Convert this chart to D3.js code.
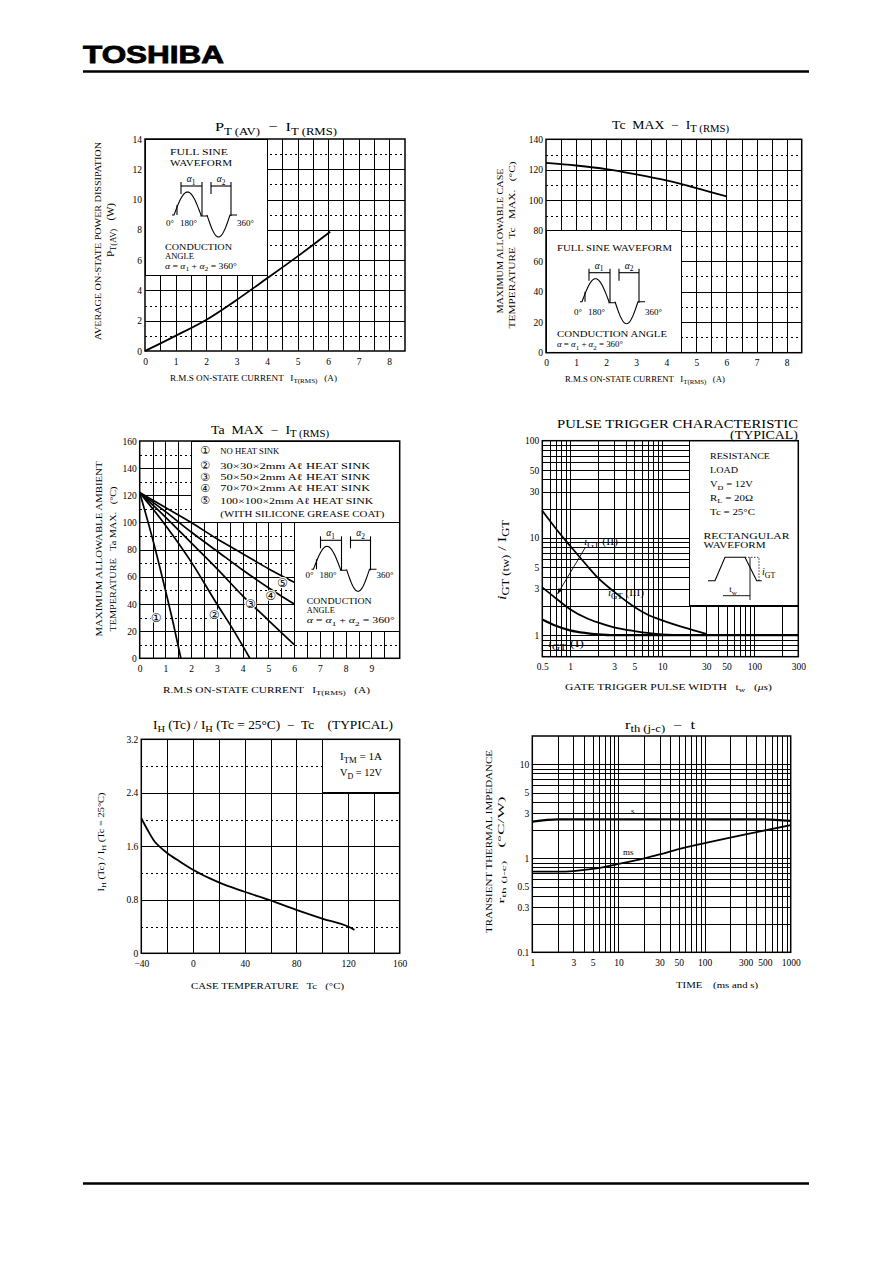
<!DOCTYPE html>
<html><head><meta charset="utf-8">
<script src="https://cdn.jsdelivr.net/npm/d3@7"></script>
<style>
html,body{margin:0;padding:0;background:#fff}
svg{display:block}
</style></head><body>
<svg id="c" width="892" height="1263"></svg>
<script>
// ---------------- DATA ----------------
// Chart 1: PT(AV) - IT(RMS)
const c1_current = [0, 1, 2, 3, 4, 5, 5.5, 6.07];
const c1_power   = [0, 1.0, 2.05, 3.37, 4.8, 6.25, 7.0, 7.88];
const c1_xTicks = [0,1,2,3,4,5,6,7,8];
const c1_yTicks = [0,2,4,6,8,10,12,14];
const c1_xGrid = [0.5,1,1.5,2,2.5,3,3.5,4,4.5,5,5.5,6,6.5,7,7.5,8];
const c1_yGrid = [2,4,6,8,10,12];
const c1_yGridDash = [1,3,5,7,9,11,13];

// Chart 2: Tc MAX - IT(RMS)
const c2_current = [0, 1, 2, 3, 4, 5, 6];
const c2_tcmax   = [124.5, 122.8, 120.5, 117, 113, 108, 102.5];
const c2_xTicks = [0,1,2,3,4,5,6,7,8];
const c2_yTicks = [0,20,40,60,80,100,120,140];
const c2_xGrid = [0.5,1,1.5,2,2.5,3,3.5,4,4.5,5,5.5,6,6.5,7,7.5,8];
const c2_yGrid = [20,40,60,80,100,120];
const c2_yGridDash = [10,30,50,70,90,110,130];

// Chart 3: Ta MAX - IT(RMS)
const c3_current_1 = [0, 0.5, 1, 1.3, 1.6];
const c3_ta_1      = [122, 88, 50, 26, 0];
const c3_current_2 = [0, 1, 2, 3, 3.6, 4.28];
const c3_ta_2      = [122, 98, 71, 40, 22, 0];
const c3_current_3 = [0, 1, 2, 3, 4, 5, 6];
const c3_ta_3      = [122, 104, 85, 66, 46, 28, 10];
const c3_current_4 = [0, 1, 2, 3, 4, 5, 6];
const c3_ta_4      = [122, 108, 93, 79, 65, 52, 40];
const c3_current_5 = [0, 1, 2, 3, 4, 5, 6];
const c3_ta_5      = [122, 111, 100, 88, 77, 66, 56];
const c3_curveNames = ["①","②","③","④","⑤"];
const c3_legend = ["NO HEAT SINK","30×30×2mm Aℓ HEAT SINK","50×50×2mm Aℓ HEAT SINK","70×70×2mm Aℓ HEAT SINK","100×100×2mm Aℓ HEAT SINK"];
const c3_xTicks = [0,1,2,3,4,5,6,7,8,9];
const c3_yTicks = [0,20,40,60,80,100,120,140,160];
const c3_xGrid = [0.5,1,1.5,2,2.5,3,3.5,4,4.5,5,5.5,6,6.5,7,7.5,8,8.5,9,9.5];
const c3_yGrid = [20,40,60,80,100,120,140];
const c3_yGridDash = [10,30,50,70,90,110,130,150];

// Chart 4: Pulse trigger characteristic
const c4_width_III = [0.5, 0.7, 1, 1.5, 2, 3, 5, 7, 10, 20, 30];
const c4_ratio_III = [19, 12.5, 8.3, 5.3, 3.9, 2.8, 1.95, 1.62, 1.42, 1.15, 1.03];
const c4_width_II  = [0.5, 0.7, 1, 1.5, 2, 3, 5, 10, 20];
const c4_ratio_II  = [3.1, 2.4, 1.85, 1.5, 1.35, 1.2, 1.1, 1.02, 1.0];
const c4_width_I   = [0.5, 0.7, 1, 1.5, 2, 3, 300];
const c4_ratio_I   = [1.45, 1.25, 1.12, 1.05, 1.02, 1.0, 1.0];
const c4_xTicks = [0.5,1,3,5,10,30,50,100,300];
const c4_yTicks = [1,3,5,10,30,50,100];
const c4_xGrid = [0.6,0.7,0.8,0.9,1,2,3,4,5,6,7,8,9,10,20,30,40,50,60,70,80,90,100,200];
const c4_yGrid = [0.7,0.8,0.9,1,2,3,4,5,6,7,8,9,10,20,30,40,50,60,70,80,90];

// Chart 5: IH(Tc)/IH(25) - Tc
const c5_temp  = [-40, -35, -30, -25, -20, -10, 0, 20, 40, 60, 80, 100, 120, 125];
const c5_ratio = [2.02, 1.84, 1.68, 1.58, 1.50, 1.37, 1.25, 1.06, 0.92, 0.79, 0.65, 0.52, 0.40, 0.35];
const c5_xTicks = [-40,0,40,80,120,160];
const c5_yTicks = [0,0.8,1.6,2.4,3.2];
const c5_xGrid = [-20,0,20,40,60,80,100,120,140];
const c5_yGrid = [0.8,1.6,2.4];
const c5_yGridDash = [0.4,1.2,2.0,2.8];

// Chart 6: rth(j-c) - t
const c6_time_ms = [1, 2, 3, 5, 10, 20, 30, 50, 100, 300, 1000];
const c6_rth_ms  = [0.72, 0.72, 0.73, 0.77, 0.87, 1.0, 1.1, 1.25, 1.45, 1.8, 2.25];
const c6_time_s  = [1, 2, 10, 100, 500, 1000];
const c6_rth_s   = [2.45, 2.6, 2.6, 2.6, 2.6, 2.5];
const c6_xTicks = [1,3,5,10,30,50,100,300,500,1000];
const c6_yTicks = [0.1,0.3,0.5,1,3,5,10];
const c6_xGrid = [2,3,4,5,6,7,8,9,10,20,30,40,50,60,70,80,90,100,200,300,400,500,600,700,800,900];
const c6_yGrid = [0.2,0.3,0.4,0.5,0.6,0.7,0.8,0.9,1,2,3,4,5,6,7,8,9,10];

// ---------------- DRAWING ----------------
const FONT = '"Liberation Serif","DejaVu Serif",serif';
const SANS = '"Liberation Sans","DejaVu Sans",sans-serif';
const svg = d3.select('#c');

function rich(parent, x, y, parts, o = {}) {
  const size = o.size || 9;
  const t = parent.append('text')
    .attr('x', x).attr('y', y)
    .attr('font-family', o.family || FONT)
    .attr('font-size', size)
    .attr('text-anchor', o.anchor || 'start')
    .attr('fill', '#000')
    .style('white-space', 'pre');
  if (o.weight) t.attr('font-weight', o.weight);
  if (o.rotate) t.attr('transform', `rotate(-90,${x},${y})`);
  if (o.len) t.attr('textLength', o.len).attr('lengthAdjust', 'spacingAndGlyphs');
  let cur = 0;
  parts.forEach(p => {
    if (typeof p === 'string') p = { t: p };
    const s = t.append('tspan').text(p.t);
    const target = p.sub ? size * 0.28 : 0;
    if (target !== cur) { s.attr('dy', target - cur); cur = target; }
    if (p.sub) s.attr('font-size', size * 0.78);
    if (p.it) s.attr('font-style', 'italic');
  });
  return t;
}

function panel(cfg) {
  const g = svg.append('g');
  const x = cfg.x, y = cfg.y;
  const [x0, x1] = x.range();
  const [yb, yt] = y.range();
  const W = x1 - x0, H = yb - yt;
  const grid = (scale, vals, vertical, dashed) => {
    if (!vals || !vals.length) return;
    const ax = (vertical ? d3.axisBottom(scale).tickSize(-H) : d3.axisLeft(scale).tickSize(-W))
      .tickValues(vals).tickFormat('');
    const gg = g.append('g')
      .attr('transform', vertical ? `translate(0,${yb})` : `translate(${x0},0)`)
      .call(ax);
    gg.select('.domain').remove();
    gg.selectAll('.tick line').attr('stroke', '#000')
      .attr('stroke-width', 1)
      .attr('shape-rendering', 'crispEdges')
      .attr('stroke-dasharray', dashed ? '2,3' : null);
  };
  grid(x, cfg.xGrid, true, false);
  grid(x, cfg.xGridDash, true, true);
  grid(y, cfg.yGrid, false, false);
  grid(y, cfg.yGridDash, false, true);
  (cfg.insets || []).forEach(b => {
    g.append('rect')
      .attr('x', x(b[0])).attr('y', y(b[3]))
      .attr('width', x(b[1]) - x(b[0])).attr('height', y(b[2]) - y(b[3]))
      .attr('fill', '#fff').attr('stroke', '#000').attr('stroke-width', 1)
      .attr('shape-rendering', 'crispEdges');
  });
  g.append('rect').attr('x', x0).attr('y', yt).attr('width', W).attr('height', H)
    .attr('fill', 'none').attr('stroke', '#000').attr('stroke-width', 1.5);
  const xa = d3.axisBottom(x).tickValues(cfg.xTicks).tickSize(0).tickPadding(7)
    .tickFormat(cfg.xFmt || (d => String(d)));
  const gx = g.append('g').attr('transform', `translate(0,${yb})`).call(xa);
  gx.select('.domain').remove();
  gx.attr('font-family', FONT).attr('font-size', 9.5);
  const ya = d3.axisLeft(y).tickValues(cfg.yTicks).tickSize(0).tickPadding(3)
    .tickFormat(cfg.yFmt || (d => String(d)));
  const gy = g.append('g').attr('transform', `translate(${x0},0)`).call(ya);
  gy.select('.domain').remove();
  gy.attr('font-family', FONT).attr('font-size', 9.5);
  return g;
}

function curve(g, x, y, xs, ys, w, kind) {
  const line = d3.line().x(d => x(d[0])).y(d => y(d[1]))
    .curve(kind === 'lin' ? d3.curveLinear : d3.curveMonotoneX);
  g.append('path').attr('d', line(d3.zip(xs, ys)))
    .attr('fill', 'none').attr('stroke', '#000').attr('stroke-width', w || 1.8)
    .attr('stroke-linejoin', 'round');
}

// sine waveform sketch used in the insets (an illustration, not data)
function wave(g, x0, base, labDy) {
  const n = 30, pos = [], neg = [];
  for (let i = 0; i <= n; i++) pos.push([x0 + 27 * i / n, base - 23 * Math.sin(Math.PI * i / n)]);
  for (let i = 0; i <= n; i++) neg.push([x0 + 33 + 23 * i / n, base + 22 * Math.sin(Math.PI * i / n)]);
  const L = d3.line();
  const st = s => s.attr('fill', 'none').attr('stroke', '#000').attr('stroke-width', 1.1);
  st(g.append('path').attr('d', L([[x0 - 2, base], ...pos, [x0 + 27, base + 1], [x0 + 33, base + 1]])));
  st(g.append('path').attr('d', L([...neg, [x0 + 63, base]])));
  st(g.append('path').attr('d', L([[x0 + 3, base], [x0 + 3, base - 10]])));
  const by = base - 29;
  const br = (a, b) => {
    st(g.append('path').attr('d', L([[a, by - 4], [a, by + 8]])));
    st(g.append('path').attr('d', L([[b, by - 4], [b, base + 1]])));
    st(g.append('path').attr('d', L([[a, by], [b, by]])).attr('stroke-width', 0.8));
  };
  br(x0 + 7, x0 + 28);
  br(x0 + 37, x0 + 57);
  rich(g, x0 + 17, by - 4, [{ t: 'α', it: true }, { t: '1', sub: true }], { size: 9.5, anchor: 'middle' });
  rich(g, x0 + 47, by - 4, [{ t: 'α', it: true }, { t: '2', sub: true }], { size: 9.5, anchor: 'middle' });
  rich(g, x0 - 8, base + labDy, ['0°'], { size: 9 });
  rich(g, x0 + 6, base + labDy, ['180°'], { size: 9 });
  rich(g, x0 + 63, base + labDy, ['360°'], { size: 9 });
}

// ---------- Header / footer ----------
svg.append('text').attr('x', 83).attr('y', 63).text('TOSHIBA')
  .attr('font-family', SANS).attr('font-weight', 'bold').attr('font-size', 23.5)
  .attr('textLength', 141).attr('lengthAdjust', 'spacingAndGlyphs')
  .attr('stroke', '#000').attr('stroke-width', 0.8);
svg.append('line').attr('x1', 83).attr('x2', 809).attr('y1', 71.5).attr('y2', 71.5)
  .attr('stroke', '#000').attr('stroke-width', 2.5);
svg.append('line').attr('x1', 83).attr('x2', 809).attr('y1', 1183.5).attr('y2', 1183.5)
  .attr('stroke', '#000').attr('stroke-width', 2.5);

// ---------- Chart 1 ----------
{
  const x = d3.scaleLinear().domain([0, 8.52]).range([145, 405]);
  const y = d3.scaleLinear().domain([0, 14]).range([351, 139]);
  const g = panel({ x, y, xTicks: c1_xTicks, yTicks: c1_yTicks, xGrid: c1_xGrid,
    yGrid: c1_yGrid, yGridDash: c1_yGridDash, insets: [[0, 4, 5, 14]] });
  curve(g, x, y, c1_current, c1_power, 1.8);
  rich(g, 215, 131, ['P', { t: 'T (AV)', sub: true }, '  −  I', { t: 'T (RMS)', sub: true }], { size: 12.5, len: 122 });
  rich(g, 100.5, 241, ['AVERAGE ON-STATE POWER DISSIPATION'], { size: 8.5, len: 198, rotate: true, anchor: 'middle' });
  rich(g, 113.5, 230, ['P', { t: 'T(AV)', sub: true }, '   (W)'], { size: 9.5, len: 54, rotate: true, anchor: 'middle' });
  rich(g, 170, 381, ['R.M.S ON-STATE CURRENT   I', { t: 'T(RMS)', sub: true }, '   (A)'], { size: 8.5, len: 167 });
  rich(g, 170, 155, ['FULL SINE'], { size: 9, len: 58 });
  rich(g, 170, 166, ['WAVEFORM'], { size: 9, len: 62 });
  wave(g, 174, 215, 11);
  rich(g, 165, 250, ['CONDUCTION'], { size: 9, len: 67 });
  rich(g, 165, 259, ['ANGLE'], { size: 9, len: 29 });
  rich(g, 165, 268.5, [{ t: 'α', it: true }, ' = ', { t: 'α', it: true }, { t: '1', sub: true }, ' + ', { t: 'α', it: true }, { t: '2', sub: true }, ' = 360°'], { size: 9, len: 72 });
}

// ---------- Chart 2 ----------
{
  const x = d3.scaleLinear().domain([0, 8.5]).range([546, 801.7]);
  const y = d3.scaleLinear().domain([0, 140]).range([352.7, 139.3]);
  const g = panel({ x, y, xTicks: c2_xTicks, yTicks: c2_yTicks, xGrid: c2_xGrid,
    yGrid: c2_yGrid, yGridDash: c2_yGridDash, insets: [[0, 4.5, 0, 80]] });
  curve(g, x, y, c2_current, c2_tcmax, 1.8);
  rich(g, 612, 129, ['Tc  MAX  −  I', { t: 'T (RMS)', sub: true }], { size: 12, len: 117 });
  rich(g, 503, 241, ['MAXIMUM ALLOWABLE CASE'], { size: 8.5, len: 145, rotate: true, anchor: 'middle' });
  rich(g, 515, 245, ['TEMPERATURE   Tc   MAX.   (°C)'], { size: 8.5, len: 167, rotate: true, anchor: 'middle' });
  rich(g, 565, 382, ['R.M.S ON-STATE CURRENT   I', { t: 'T(RMS)', sub: true }, '   (A)'], { size: 8.5, len: 160 });
  rich(g, 557, 251, ['FULL SINE WAVEFORM'], { size: 9, len: 115 });
  wave(g, 582, 301.7, 13);
  rich(g, 557, 336.5, ['CONDUCTION ANGLE'], { size: 9, len: 110 });
  rich(g, 557, 347, [{ t: 'α', it: true }, ' = ', { t: 'α', it: true }, { t: '1', sub: true }, ' + ', { t: 'α', it: true }, { t: '2', sub: true }, ' = 360°'], { size: 9, len: 66 });
}

// ---------- Chart 3 ----------
{
  const x = d3.scaleLinear().domain([0, 10.1]).range([139.7, 399.7]);
  const y = d3.scaleLinear().domain([0, 160]).range([658.3, 441]);
  const g = panel({ x, y, xTicks: c3_xTicks, yTicks: c3_yTicks, xGrid: c3_xGrid,
    yGrid: c3_yGrid, yGridDash: c3_yGridDash, insets: [[2, 10.1, 100, 160], [6, 10.1, 20, 100]] });
  const sets = [[c3_current_1, c3_ta_1], [c3_current_2, c3_ta_2], [c3_current_3, c3_ta_3],
                [c3_current_4, c3_ta_4], [c3_current_5, c3_ta_5]];
  sets.forEach(s => curve(g, x, y, s[0], s[1], 1.7));
  // curve tags (positions in data units)
  const tagPos = [[0.64, 30], [2.89, 32], [4.3, 40], [5.09, 46], [5.54, 56]];
  tagPos.forEach((p, i) => {
    g.append('text').attr('x', x(p[0])).attr('y', y(p[1]) + 4.5).attr('text-anchor', 'middle')
      .attr('font-size', 12).attr('font-family', '"DejaVu Sans","Noto Sans CJK JP",sans-serif')
      .style('paint-order', 'stroke')
      .attr('stroke', '#fff').attr('stroke-width', 2.5).attr('fill', '#000').text(c3_curveNames[i]);
  });
  const rows = [453.5, 468.5, 480, 491, 503.5];
  const lens = [59, 150, 150, 150, 153];
  c3_legend.forEach((t, i) => {
    g.append('text').attr('x', 205).attr('y', rows[i] + 0.5).attr('text-anchor', 'middle')
      .attr('font-size', 11).attr('font-family', '"DejaVu Sans","Noto Sans CJK JP",sans-serif')
      .text(c3_curveNames[i]);
    rich(g, 220.3, rows[i], [t], { size: 9, len: lens[i] });
  });
  rich(g, 220.3, 517, ['(WITH SILICONE GREASE COAT)'], { size: 9, len: 164 });
  rich(g, 211, 434, ['Ta  MAX  −  I', { t: 'T (RMS)', sub: true }], { size: 12, len: 118 });
  rich(g, 102, 549, ['MAXIMUM ALLOWABLE AMBIENT'], { size: 8.5, len: 175, rotate: true, anchor: 'middle' });
  rich(g, 116, 559, ['TEMPERATURE   Ta MAX.   (°C)'], { size: 8.5, len: 145, rotate: true, anchor: 'middle' });
  rich(g, 163, 693, ['R.M.S ON-STATE CURRENT   I', { t: 'T(RMS)', sub: true }, '   (A)'], { size: 8.5, len: 207 });
  wave(g, 313.5, 569.3, 9);
  rich(g, 306.7, 604, ['CONDUCTION'], { size: 9, len: 65 });
  rich(g, 306.7, 613, ['ANGLE'], { size: 9, len: 28 });
  rich(g, 306.7, 623, [{ t: 'α', it: true }, ' = ', { t: 'α', it: true }, { t: '1', sub: true }, ' + ', { t: 'α', it: true }, { t: '2', sub: true }, ' = 360°'], { size: 9, len: 88 });
}

// ---------- Chart 4 ----------
{
  const x = d3.scaleLog().domain([0.5, 300]).range([542.3, 798.3]);
  const y = d3.scaleLog().domain([0.6, 100]).range([656.7, 440.7]);
  const g = panel({ x, y, xTicks: c4_xTicks, yTicks: c4_yTicks, xGrid: c4_xGrid,
    yGrid: c4_yGrid, insets: [[20, 300, 2, 100]] });
  curve(g, x, y, c4_width_III, c4_ratio_III, 1.8);
  curve(g, x, y, c4_width_II, c4_ratio_II, 1.8);
  curve(g, x, y, c4_width_I, c4_ratio_I, 2.2);
  rich(g, 557, 428, ['PULSE TRIGGER CHARACTERISTIC'], { size: 11.5, len: 241 });
  rich(g, 730, 438.5, ['(TYPICAL)'], { size: 11.5, len: 68 });
  rich(g, 506, 560, [{ t: 'i', it: true }, { t: 'GT', sub: true }, { t: ' (tw)', sub: true }, ' / I', { t: 'GT', sub: true }], { size: 12, len: 80, rotate: true, anchor: 'middle' });
  rich(g, 565, 690, ['GATE TRIGGER PULSE WIDTH   t', { t: 'w', sub: true }, '   (', { t: 'μs', it: true }, ')'], { size: 8.5, len: 207 });
  rich(g, 584, 545, [{ t: 'i', it: true }, { t: 'GT', sub: true }, ' (II)'], { size: 10, len: 34 });
  rich(g, 608, 596, [{ t: 'i', it: true }, { t: 'GT', sub: true }, ' (III)'], { size: 10, len: 36 });
  rich(g, 548, 647, [{ t: 'i', it: true }, { t: 'GT', sub: true }, ' (I)'], { size: 10, len: 36 });
  // arrow from iGT(II) tag to its curve
  const ax0 = 585, ay0 = 548, ax1 = 557.5, ay1 = 594;
  g.append('line').attr('x1', ax0).attr('y1', ay0).attr('x2', ax1).attr('y2', ay1)
    .attr('stroke', '#000').attr('stroke-width', 0.9);
  const ang = Math.atan2(ay1 - ay0, ax1 - ax0);
  const hp = [[ax1, ay1], [ax1 - 6 * Math.cos(ang - 0.35), ay1 - 6 * Math.sin(ang - 0.35)],
              [ax1 - 6 * Math.cos(ang + 0.35), ay1 - 6 * Math.sin(ang + 0.35)]];
  g.append('path').attr('d', d3.line()(hp) + 'Z').attr('fill', '#000');
  // legend
  const lx = 710;
  rich(g, lx, 458.5, ['RESISTANCE'], { size: 9, len: 60 });
  rich(g, lx, 473, ['LOAD'], { size: 9, len: 28 });
  rich(g, lx, 487, ['V', { t: 'D', sub: true }, ' = 12V'], { size: 9, len: 43 });
  rich(g, lx, 500.5, ['R', { t: 'L', sub: true }, ' = 20Ω'], { size: 9, len: 43 });
  rich(g, lx, 514.5, ['Tc = 25°C'], { size: 9, len: 45 });
  rich(g, 703.5, 539, ['RECTANGULAR'], { size: 9, len: 86 });
  rich(g, 703.5, 548, ['WAVEFORM'], { size: 9, len: 62 });
  const L = d3.line();
  g.append('path').attr('d', L([[708, 580.7], [715, 580.7], [725, 557.3], [745, 557.3], [756.7, 580.7], [761.7, 580.7]]))
    .attr('fill', 'none').attr('stroke', '#000').attr('stroke-width', 1.1);
  g.append('path').attr('d', L([[745, 557.3], [759, 557.3], [759, 581]]))
    .attr('fill', 'none').attr('stroke', '#000').attr('stroke-width', 0.8).attr('stroke-dasharray', '1.5,1.5');
  g.append('path').attr('d', L([[750, 557.3], [750, 600]]))
    .attr('fill', 'none').attr('stroke', '#000').attr('stroke-width', 0.9);
  g.append('path').attr('d', L([[723, 595.7], [750, 595.7]]))
    .attr('fill', 'none').attr('stroke', '#000').attr('stroke-width', 0.9);
  rich(g, 733, 592, ['t', { t: 'w', sub: true }], { size: 9, anchor: 'middle' });
  rich(g, 762, 575, [{ t: 'i', it: true }, { t: 'GT', sub: true }], { size: 10 });
}

// ---------- Chart 5 ----------
{
  const x = d3.scaleLinear().domain([-40, 160]).range([141.3, 399.7]);
  const y = d3.scaleLinear().domain([0, 3.2]).range([953.3, 739.3]);
  const g = panel({ x, y, xTicks: c5_xTicks, yTicks: c5_yTicks, xGrid: c5_xGrid,
    yGrid: c5_yGrid, yGridDash: c5_yGridDash, insets: [[100, 160, 2.4, 3.2]],
    xFmt: d => d < 0 ? '−' + Math.abs(d) : String(d), yFmt: d => d === 0 ? '0' : d.toFixed(1) });
  curve(g, x, y, c5_temp, c5_ratio, 1.8);
  rich(g, 153, 729, ['I', { t: 'H', sub: true }, ' (Tc) / I', { t: 'H', sub: true }, ' (Tc = 25°C)  −  Tc    (TYPICAL)'], { size: 11.5, len: 240 });
  rich(g, 104, 842, ['I', { t: 'H', sub: true }, ' (Tc) / I', { t: 'H', sub: true }, ' (Tc = 25°C)'], { size: 8.5, len: 99, rotate: true, anchor: 'middle' });
  rich(g, 191, 989, ['CASE TEMPERATURE   Tc   (°C)'], { size: 8.5, len: 153 });
  rich(g, 340, 760, ['I', { t: 'TM', sub: true }, ' = 1A'], { size: 10, len: 42 });
  rich(g, 340, 776, ['V', { t: 'D', sub: true }, ' = 12V'], { size: 10, len: 42 });
}

// ---------- Chart 6 ----------
{
  const x = d3.scaleLog().domain([1, 1000]).range([532.3, 790.7]);
  const y = d3.scaleLog().domain([0.1, 20]).range([952.3, 736]);
  const g = panel({ x, y, xTicks: c6_xTicks, yTicks: c6_yTicks, xGrid: c6_xGrid,
    yGrid: c6_yGrid });
  curve(g, x, y, c6_time_s, c6_rth_s, 2.2);
  curve(g, x, y, c6_time_ms, c6_rth_ms, 1.8);
  rich(g, 625, 729, ['r', { t: 'th (j-c)', sub: true }, '  −  t'], { size: 12, len: 70 });
  rich(g, 492, 841.5, ['TRANSIENT THERMAL IMPEDANCE'], { size: 8.5, len: 183, rotate: true, anchor: 'middle' });
  rich(g, 504, 850, ['r', { t: 'th (j-c)', sub: true }, '   (°C/W)'], { size: 8.5, len: 107, rotate: true, anchor: 'middle' });
  rich(g, 676, 988, ['TIME    (ms and s)'], { size: 8.5, len: 82 });
  rich(g, 631, 814, ['s'], { size: 9 });
  rich(g, 623, 855, ['ms'], { size: 9 });
}
</script>
</body></html>
